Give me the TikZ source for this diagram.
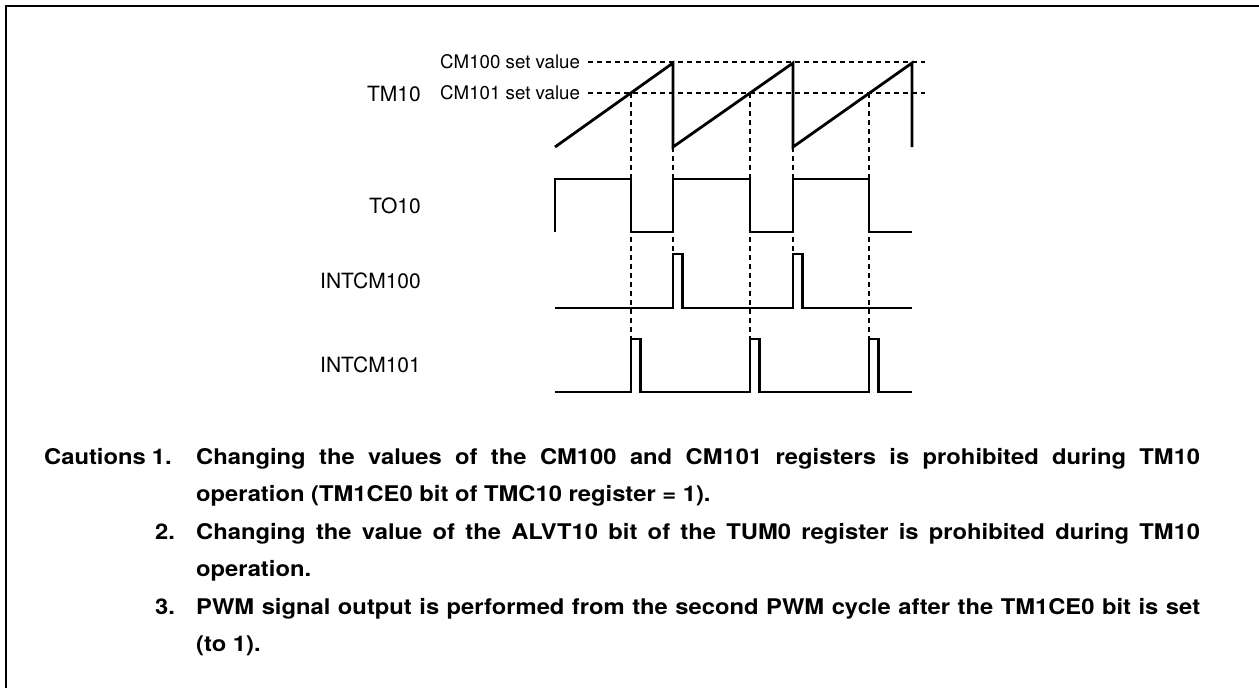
\documentclass[tikz,border=0pt]{standalone}
\usepackage{fontspec}
\setmainfont{TeX Gyre Heros}
\newfontfamily\cautionfont[FakeStretch=1.1]{TeX Gyre Heros}
\usepackage{tikz}
\usetikzlibrary{positioning}
\usepackage{xcolor}
\definecolor{ink}{HTML}{000000}
\newcommand{\sz}[1]{\fontsize{#1}{#1}\selectfont}
\tolerance=10000

\begin{document}
\begin{tikzpicture}[x=1pt, y=-1pt,
  every node/.style={inner sep=0pt, text=ink},
  wave/.style={line width=2.8pt, draw=ink},
  guide/.style={line width=1.2pt, draw=ink, dash pattern=on 5pt off 4pt},
  siglabel/.style={font=\sz{21}, anchor=east},
  setlabel/.style={font=\sz{18.7}, anchor=west},
  caution/.style={font=\cautionfont\bfseries\fontsize{21.6}{37.5}\selectfont, anchor=base west},
  cautiontext/.style={caution, text width=1004pt, align=justify}]
\useasboundingbox (0,0) rectangle (1259,688);
% 1. frame (only top and left edges are in view)
\draw[line width=2.2pt, draw=ink] (6,688) -- (6,6) -- (1259,6);
% 2. signal names
\node[siglabel] (tm) at (421,94) {TM10};
\node[siglabel] (to) at (421,206) {TO10};
\node[siglabel] (int100) at (421,281) {INTCM100};
\node[siglabel] (int101) at (421,365) {INTCM101};
% 3. compare levels of the timer
\node[setlabel] (cm100) at (440,62) {CM100 set value};
\node[setlabel] (cm101) at (440,93) {CM101 set value};
\coordinate (cm100end) at (925,62);
\coordinate (cm101end) at (925,93);
\draw[guide] ([xshift=8pt]cm100.east) -- (cm100end);
\draw[guide] ([xshift=8pt]cm101.east) -- (cm101end);
% 4. TM10 count (sawtooth)
\draw[wave] (555,147) -- (673,63) -- (673,147) -- (793,63) -- (793,147) -- (912,63) -- (912,147);
% 5. TO10 output
\draw[wave] (555,232) -- (555,179) -- (631,179) -- (631,232) -- (673,232) -- (673,179)
  -- (750,179) -- (750,232) -- (793,232) -- (793,179) -- (869,179) -- (869,232) -- (912,232);
% 6. interrupt pulses
\draw[wave] (555,308) -- (673,308) -- (673,254) -- (682.5,254) -- (682.5,308)
  -- (793,308) -- (793,254) -- (802.5,254) -- (802.5,308) -- (912,308);
\draw[wave] (555,392) -- (631,392) -- (631,339) -- (640.5,339) -- (640.5,392)
  -- (750,392) -- (750,339) -- (759.5,339) -- (759.5,392)
  -- (869,392) -- (869,339) -- (878.5,339) -- (878.5,392) -- (912,392);
% 7. match instants carried down
\foreach \t in {631,750,869} \draw[guide] (\t,93) -- (\t,339);
\foreach \t in {673,793} \draw[guide] (\t,147) -- (\t,254);
% 8. cautions
\node[caution] (head) at (44,464) {Cautions\hspace{6pt}1.};
\node[cautiontext] (item1) at (196,464) {Changing the values of the CM100 and CM101 registers is prohibited during TM10\linebreak operation (TM1CE0 bit of TMC10 register = 1).};
\node[caution] (num2) at (155,539) {2.};
\node[cautiontext] (item2) at (196,539) {Changing the value of the ALVT10 bit of the TUM0 register is prohibited during TM10\linebreak operation.};
\node[caution] (num3) at (155,614) {3.};
\node[cautiontext] (item3) at (196,614) {PWM signal output is performed from the second PWM cycle after the TM1CE0 bit is set\linebreak (to 1).};
\end{tikzpicture}
\end{document}
